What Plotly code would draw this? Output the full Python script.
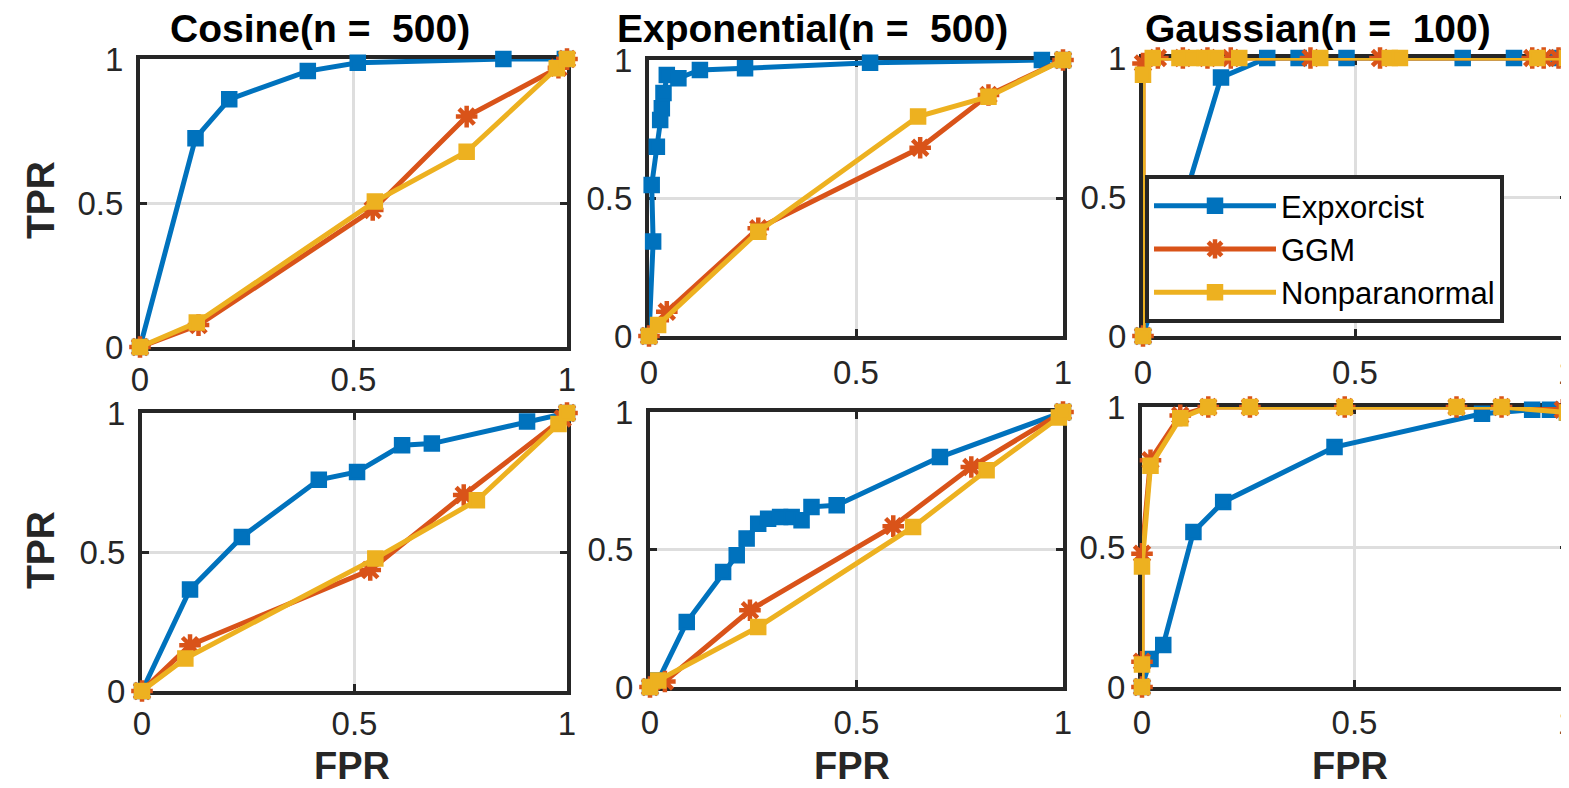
import plotly.graph_objects as go

# ---------------- data ----------------
methods = ["Expxorcist", "GGM", "Nonparanormal"]
titles = ["Cosine(n =\u00a0 500)", "Exponential(n =\u00a0 500)", "Gaussian(n =\u00a0 100)"]
tick_vals = [0, 0.5, 1]
tick_text = ["0", "0.5", "1"]

# top-left: Cosine
cos1_exp_x = [0, 0.13, 0.209, 0.393, 0.51, 0.851, 0.995]
cos1_exp_y = [0, 0.725, 0.86, 0.958, 0.987, 1.0, 1.0]
cos1_ggm_x = [0, 0.137, 0.545, 0.765, 0.98, 1.0]
cos1_ggm_y = [0, 0.076, 0.476, 0.80, 0.97, 1.0]
cos1_npn_x = [0, 0.133, 0.55, 0.765, 0.976, 1.0]
cos1_npn_y = [0, 0.085, 0.505, 0.678, 0.968, 1.0]

# top-middle: Exponential
exp1_exp_x = [0, 0.01, 0.0065, 0.019, 0.027, 0.031, 0.035, 0.043, 0.071, 0.123, 0.232, 0.534, 0.949, 1.0]
exp1_exp_y = [0, 0.342, 0.547, 0.686, 0.783, 0.825, 0.88, 0.946, 0.934, 0.964, 0.97, 0.99, 1.0, 1.0]
exp1_ggm_x = [0, 0.043, 0.264, 0.655, 0.82, 1.0]
exp1_ggm_y = [0, 0.088, 0.39, 0.682, 0.873, 1.0]
exp1_npn_x = [0, 0.022, 0.264, 0.65, 0.82, 1.0]
exp1_npn_y = [0, 0.04, 0.378, 0.795, 0.867, 1.0]

# top-right: Gaussian
gau1_exp_x = [0, 0.184, 0.293, 0.367, 0.48, 0.754, 0.875, 0.98, 1.0]
gau1_exp_y = [0, 0.93, 1.0, 1.0, 1.0, 1.0, 1.0, 1.0, 1.0]
gau1_ggm_x = [0, 0, 0.035, 0.094, 0.152, 0.207, 0.395, 0.559, 0.918, 0.945, 0.98, 1.0]
gau1_ggm_y = [0, 0.98, 1.0, 1.0, 1.0, 1.0, 1.0, 1.0, 1.0, 1.0, 1.0, 1.0]
gau1_npn_x = [0, 0, 0.023, 0.086, 0.113, 0.145, 0.172, 0.227, 0.418, 0.582, 0.606, 0.93, 1.0]
gau1_npn_y = [0, 0.94, 1.0, 1.0, 1.0, 1.0, 1.0, 1.0, 1.0, 1.0, 1.0, 1.0, 1.0]

# bottom-left: Cosine
cos2_exp_x = [0, 0.113, 0.235, 0.416, 0.506, 0.612, 0.682, 0.906, 1.0]
cos2_exp_y = [0, 0.365, 0.554, 0.76, 0.788, 0.884, 0.89, 0.969, 1.0]
cos2_ggm_x = [0, 0.113, 0.537, 0.757, 0.99, 1.0]
cos2_ggm_y = [0, 0.165, 0.435, 0.705, 0.98, 1.0]
cos2_npn_x = [0, 0.102, 0.549, 0.788, 0.98, 1.0]
cos2_npn_y = [0, 0.117, 0.477, 0.686, 0.96, 1.0]

# bottom-middle: Exponential
exp2_exp_x = [0, 0.02, 0.089, 0.177, 0.21, 0.234, 0.262, 0.286, 0.315, 0.343, 0.367, 0.391, 0.452, 0.702, 1.0]
exp2_exp_y = [0, 0.024, 0.236, 0.418, 0.479, 0.54, 0.594, 0.612, 0.618, 0.618, 0.606, 0.655, 0.661, 0.836, 1.0]
exp2_ggm_x = [0, 0.036, 0.242, 0.589, 0.778, 1.0]
exp2_ggm_y = [0, 0.02, 0.279, 0.585, 0.80, 1.0]
exp2_npn_x = [0, 0.02, 0.262, 0.637, 0.815, 0.99, 1.0]
exp2_npn_y = [0, 0.024, 0.218, 0.582, 0.788, 0.98, 1.0]

# bottom-right: Gaussian
gau2_exp_x = [0, 0.02, 0.05, 0.121, 0.191, 0.453, 0.8, 0.918, 0.96, 1.0]
gau2_exp_y = [0, 0.1, 0.15, 0.554, 0.661, 0.857, 0.976, 0.99, 0.99, 0.98]
gau2_ggm_x = [0, 0, 0, 0.02, 0.09, 0.156, 0.254, 0.477, 0.74, 0.846, 0.99]
gau2_ggm_y = [0, 0.09, 0.476, 0.81, 0.97, 1.0, 1.0, 1.0, 1.0, 1.0, 0.99]
gau2_npn_x = [0, 0, 0, 0.02, 0.09, 0.156, 0.254, 0.477, 0.74, 0.846, 1.0]
gau2_npn_y = [0, 0.08, 0.43, 0.79, 0.96, 1.0, 1.0, 1.0, 1.0, 1.0, 0.98]

panels = [
    [(cos1_exp_x, cos1_exp_y), (cos1_ggm_x, cos1_ggm_y), (cos1_npn_x, cos1_npn_y)],
    [(exp1_exp_x, exp1_exp_y), (exp1_ggm_x, exp1_ggm_y), (exp1_npn_x, exp1_npn_y)],
    [(gau1_exp_x, gau1_exp_y), (gau1_ggm_x, gau1_ggm_y), (gau1_npn_x, gau1_npn_y)],
    [(cos2_exp_x, cos2_exp_y), (cos2_ggm_x, cos2_ggm_y), (cos2_npn_x, cos2_npn_y)],
    [(exp2_exp_x, exp2_exp_y), (exp2_ggm_x, exp2_ggm_y), (exp2_npn_x, exp2_npn_y)],
    [(gau2_exp_x, gau2_exp_y), (gau2_ggm_x, gau2_ggm_y), (gau2_npn_x, gau2_npn_y)],
]

# ---------------- layout / style ----------------
# the page body keeps its default 8px margin, so the figure is offset by it
OX, OY = 8, 8
W, H = 1569 - OX, 788 - OY


def fx(px):
    return (px - OX) / W


def fy(py):
    return 1 - (py - OY) / H


colors = ["#0072BD", "#D95319", "#EDB120"]
# panel boxes in window pixels: (left, right, top, bottom)
boxes = [
    (140, 567, 59, 347),
    (649, 1063, 60, 336),
    (1143, 1567, 58, 336),
    (142, 567, 413, 691),
    (650, 1063, 412, 687),
    (1142, 1567, 407, 687),
]
xlab_y = [372, 372, 372, 722, 722, 722]
FONT = "Liberation Sans, Arial, Helvetica, sans-serif"
TICKFONT = dict(family=FONT, size=33, color="#262626")

fig = go.Figure()
layout = dict(
    width=W, height=H, margin=dict(l=0, r=0, t=0, b=0, autoexpand=False),
    paper_bgcolor="white", plot_bgcolor="white",
    showlegend=True,
)

for i, (series, box) in enumerate(zip(panels, boxes)):
    l, r, t, b = box
    idx = "" if i == 0 else str(i + 1)
    xa, ya = "xaxis" + idx, "yaxis" + idx
    for k, (xs, ys) in enumerate(series):
        if k == 1:
            marker = dict(symbol="asterisk-open", size=18, color=colors[k],
                          line=dict(color=colors[k], width=4.5))
        else:
            marker = dict(symbol="square", size=14, color=colors[k],
                          line=dict(color=colors[k], width=2.5))
        fig.add_trace(go.Scatter(
            x=xs, y=ys, mode="lines+markers", name=methods[k],
            line=dict(color=colors[k], width=5),
            marker=marker, cliponaxis=False,
            showlegend=(i == 2), legendrank=k,
            xaxis="x" + idx, yaxis="y" + idx,
        ))
    common = dict(
        range=[0, 1], tickvals=tick_vals, ticktext=tick_text,
        showgrid=True, gridcolor="#dedede", gridwidth=3,
        zeroline=False, showline=True, linecolor="#262626", linewidth=4,
        mirror="ticks", ticks="inside", ticklen=7, tickwidth=3,
        tickcolor="#262626", tickfont=TICKFONT, layer="below traces",
        fixedrange=True, automargin=False, ticklabeloverflow="allow",
    )
    layout[xa] = dict(common, domain=[fx(l), min(1, fx(r))], anchor="y" + idx,
                      ticklabelstandoff=max(0, xlab_y[i] - b - 32))
    layout[ya] = dict(common, domain=[fy(b), fy(t)], anchor="x" + idx,
                      ticklabelstandoff=6)

annotations = []
title_cx = [320, 812, 1318]
for j, txt in enumerate(titles):
    annotations.append(dict(text="<b>%s</b>" % txt, x=fx(title_cx[j]), y=fy(28),
                            xref="paper", yref="paper", showarrow=False,
                            xanchor="center", yanchor="middle",
                            font=dict(family=FONT, size=39, color="black")))
for cx in [352, 852, 1350]:
    annotations.append(dict(text="<b>FPR</b>", x=fx(cx), y=fy(766),
                            xref="paper", yref="paper", showarrow=False,
                            xanchor="center", yanchor="middle",
                            font=dict(family=FONT, size=38, color="#262626")))
for cy in [200, 550]:
    annotations.append(dict(text="<b>TPR</b>", x=fx(40), y=fy(cy),
                            xref="paper", yref="paper", showarrow=False,
                            textangle=-90, xanchor="center", yanchor="middle",
                            font=dict(family=FONT, size=39, color="#262626")))
layout["annotations"] = annotations

layout["legend"] = dict(
    x=fx(1145), y=fy(175), xanchor="left", yanchor="top",
    bgcolor="white", bordercolor="#262626", borderwidth=4,
    font=dict(family=FONT, size=31, color="black"),
    itemwidth=122, tracegroupgap=0,
)

fig.update_layout(**layout)
fig.write_html("out.html")
